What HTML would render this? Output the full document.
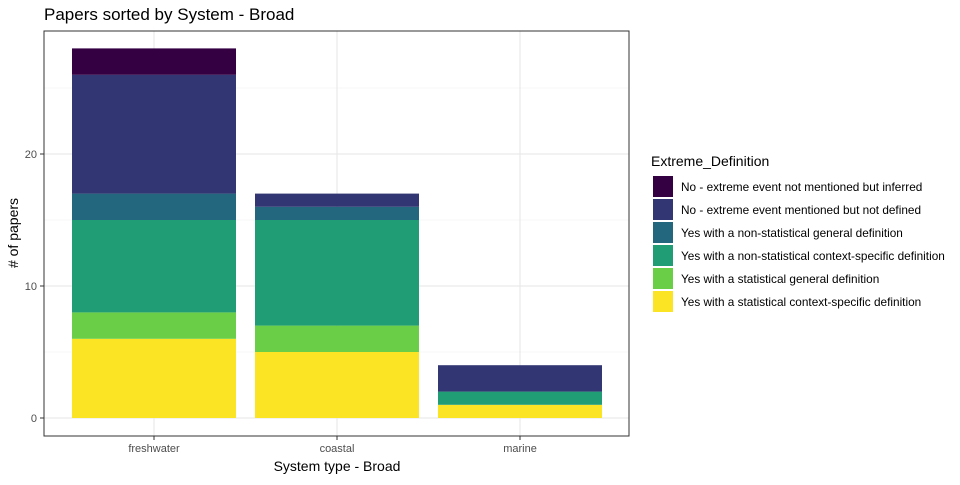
<!DOCTYPE html>
<html><head><meta charset="utf-8"><style>
body{margin:0;background:#fff;font-family:"Liberation Sans",Arial,sans-serif;}
svg text{font-family:"Liberation Sans",Arial,sans-serif;}
</style></head><body>
<svg id="chart" width="960" height="480" xmlns="http://www.w3.org/2000/svg">
<text x="44" y="20" font-size="17" fill="#000">Papers sorted by System - Broad</text>
<g id="grid"></g>
<g id="bars"></g>
<rect x="44" y="31" width="585" height="405" fill="none" stroke="#333" stroke-width="1"/>
<g id="axes"></g>
<text transform="translate(18,233) rotate(-90)" text-anchor="middle" font-size="14"># of papers</text>
<text x="337" y="471" text-anchor="middle" font-size="14">System type - Broad</text>
<text x="651" y="166" font-size="14">Extreme_Definition</text>
<g id="legend"></g>
</svg>
<script>
const categories = ["freshwater","coastal","marine"];
const seriesNames = ["No - extreme event not mentioned but inferred","No - extreme event mentioned but not defined","Yes with a non-statistical general definition","Yes with a non-statistical context-specific definition","Yes with a statistical general definition","Yes with a statistical context-specific definition"];
const colors = ["#340042","#323672","#23677E","#219D76","#6ACE46","#FBE424"];
const sInferred = [2,0,0];
const sNotDefined = [9,1,2];
const sNonStatGeneral = [2,1,0];
const sNonStatContext = [7,8,1];
const sStatGeneral = [2,2,0];
const sStatContext = [6,5,1];
const yTicks = [0,10,20];
const yMinor = [5,15,25];

const NS="http://www.w3.org/2000/svg";
const series=[sInferred,sNotDefined,sNonStatGeneral,sNonStatContext,sStatGeneral,sStatContext];
const y=v=>418-v*13.2;
const x=i=>154+i*183;
const bw=164;
function mk(tag,attrs,parent){const e=document.createElementNS(NS,tag);for(const k in attrs)e.setAttribute(k,attrs[k]);document.getElementById(parent).appendChild(e);return e;}
yMinor.forEach(v=>{const l=mk('line',{x1:44,x2:629,y1:y(v),y2:y(v),stroke:'#f0f0f0','stroke-width':0.6},'grid');

});
yTicks.forEach(v=>{const l=mk('line',{x1:44,x2:629,y1:y(v),y2:y(v),stroke:'#e6e6e6','stroke-width':1.1},'grid');


const t=mk('line',{x1:40,x2:44,y1:y(v),y2:y(v),stroke:'#333'},'axes');


const tx=mk('text',{x:37,y:y(v)+4,'text-anchor':'end','font-size':11,fill:'#4d4d4d'},'axes');tx.textContent=v;

});
categories.forEach((c,i)=>{const l=mk('line',{x1:x(i),x2:x(i),y1:31,y2:436,stroke:'#e6e6e6','stroke-width':1.1},'grid');


const t=mk('line',{x1:x(i),x2:x(i),y1:436,y2:440,stroke:'#333'},'axes');


const tx=mk('text',{x:x(i),y:452,'text-anchor':'middle','font-size':11,fill:'#4d4d4d'},'axes');tx.textContent=c;


let base=0;
for(let s=series.length-1;s>=0;s--){const v=series[s][i];if(v<=0)continue;
const r=mk('rect',{x:x(i)-bw/2,y:y(base+v),width:bw,height:y(base)-y(base+v),fill:colors[s]},'bars');


base+=v;}
});
seriesNames.forEach((n,s)=>{const yy=176+s*23;
const r=mk('rect',{x:653,y:yy,width:20,height:21,fill:colors[s]},'legend');


const t=mk('text',{x:681,y:yy+15,'font-size':11.8,fill:'#000'},'legend');t.textContent=n;

});
</script>
</body></html>
